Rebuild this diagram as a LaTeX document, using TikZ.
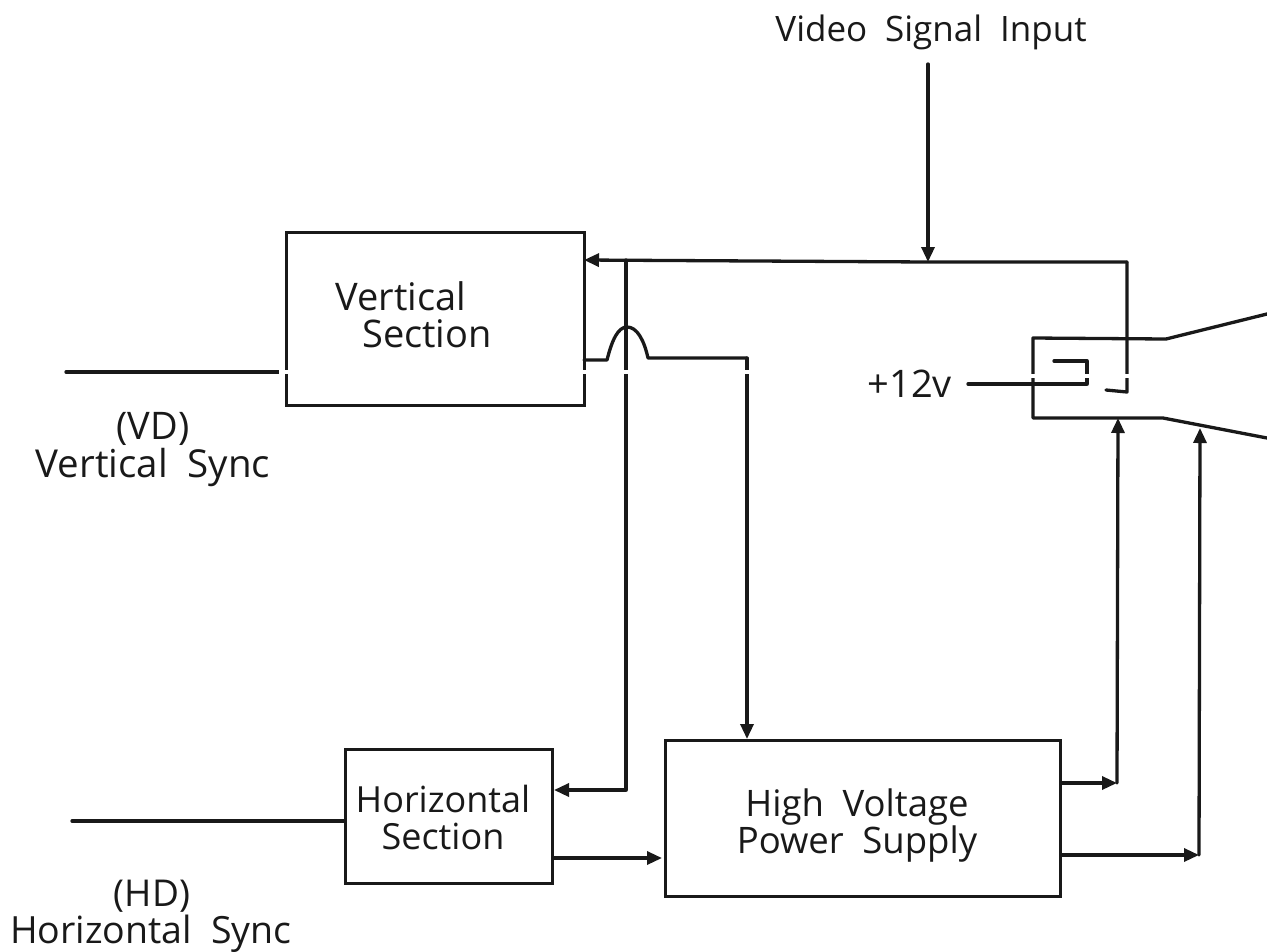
\documentclass[tikz,border=0pt]{standalone}
\usepackage{fontspec}
\setmainfont{Open Sans}
\usetikzlibrary{arrows.meta}
\tikzset{
 wire/.style={line width=3.3pt,line cap=round,line join=round,black!90},
 arrow wire/.style={wire,-{Triangle[length=15pt,width=13pt]}},
 block/.style={draw=black!90,line width=3.3pt,fill=none,inner sep=0pt,anchor=north west},
 lbl/.style={font=\fontsize{#1}{41}\selectfont,align=center,inner sep=0pt,text=black!90},
 lbl/.default=35,
 gap/.style={draw=white,line width=3.5pt}
}
\begin{document}
\begin{tikzpicture}[x=1pt,y=-1pt]
\useasboundingbox (0,0) rectangle (1267,951);
% blocks
\node[block,minimum width=298pt,minimum height=173pt] (vs) at (284.5,230.5) {};
\node[block,minimum width=207pt,minimum height=134pt] (hs) at (343.5,747.5) {};
\node[block,minimum width=395pt,minimum height=156pt] (hv) at (663.5,739) {};
% labels
\node[lbl] (tvid) at (931,32) {Video\hspace{.25em} Signal\hspace{.25em} Input};
\node[lbl=38] (tvs1) at (401,296) {Vertical};
\node[lbl=38] (tvs2) at (427,334) {Section};
\node[lbl=38] (tvd1) at (153,429) {(VD)};
\node[lbl=38.5] (tvd2) at (153,467) {Vertical\hspace{.25em} Sync};
\node[lbl=36] (ths1) at (443,799) {Horizontal};
\node[lbl=36] (ths2) at (443,836) {Section};
\node[lbl=36.5] (thv1) at (857,807) {High\hspace{.25em} Voltage};
\node[lbl=36.5] (thv2) at (857,844) {Power\hspace{.25em} Supply};
\node[lbl=37] (thd1) at (152,896) {(HD)};
\node[lbl=37.5] (thd2) at (151,934) {Horizontal\hspace{.25em} Sync};
\node[lbl=38,anchor=east] (t12) at (952,384) {+12v};
% coordinates
\coordinate (vidtop) at (928,64);
\coordinate (bus) at (928,262);
\coordinate (busr) at (1127,262);
\coordinate (vsin) at (584,260);
\coordinate (tap) at (626,260);
\coordinate (tapb) at (626,790);
\coordinate (hsin) at (554,790);
\coordinate (vsl) at (66,372);
\coordinate (hsl) at (72,821);
\coordinate (vsr) at (584,360);
\coordinate (hump1) at (607,360);
\coordinate (hump2) at (648,358);
\coordinate (crn) at (747,358);
\coordinate (hvin) at (747,739);
\coordinate (hsout) at (554,858);
\coordinate (hvl) at (662,858);
\coordinate (hvo1) at (1061,783);
\coordinate (j1) at (1117,783);
\coordinate (hvo2) at (1061,855);
\coordinate (j2) at (1199,855);
\coordinate (ptop) at (1118,418);
\coordinate (ptop2) at (1200,428);
% CRT
\coordinate (a) at (1033,338);
\coordinate (b) at (1033,418);
\coordinate (c) at (1166,339);
\coordinate (d) at (1163,418);
\coordinate (e) at (1267,314);
\coordinate (f) at (1267,438);
\draw[wire] (e) -- (c) -- (a) -- (b) -- (d) -- (f);
\draw[wire] (1054,361) -- (1087,361) -- (1087,384) -- (968,384);
\draw[wire] (busr) -- (1127,392) -- (1106,390);
% connectors
\draw[arrow wire] (vidtop) -- (bus);
\draw[arrow wire] (busr) -- (bus) -- (vsin);
\draw[wire] (vsl) -- (vs.west |- vsl);
\draw[wire] (hsl) -- (hs.west |- hsl);
\draw[arrow wire] (tap) -- (tapb) -- (hsin);
\draw[wire] (vsr) -- (hump1) .. controls (612,340) and (618,327) .. (627,327) .. controls (637,327) and (644,340) .. (hump2) -- (crn);
\draw[arrow wire] (crn) -- (hvin);
\draw[arrow wire] (hsout) -- (hvl);
\draw[arrow wire] (hvo1) -- (j1);
\draw[arrow wire] (j1) -- (ptop);
\draw[arrow wire] (hvo2) -- (j2);
\draw[arrow wire] (j2) -- (ptop2);
% scan gaps
\draw[gap] (279,372) -- (291,372);
\draw[gap] (577,372) -- (591,372);
\draw[gap] (619,372) -- (633,372);
\draw[gap] (740,372) -- (754,372);
\draw[gap] (1026,376) -- (1040,376);
\draw[gap] (1080,376) -- (1094,376);
\draw[gap] (1120,376) -- (1134,376);
\end{tikzpicture}
\end{document}
